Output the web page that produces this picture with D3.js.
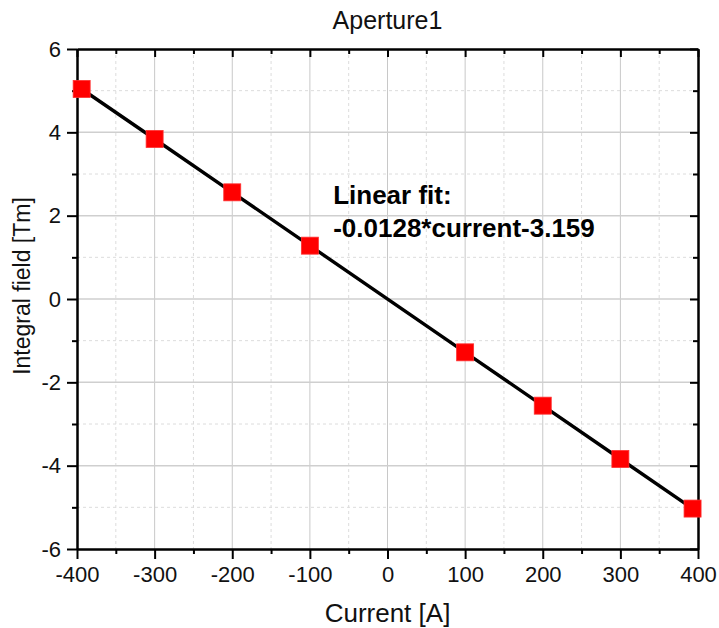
<!DOCTYPE html>
<html>
<head>
<meta charset="utf-8">
<script src="https://cdn.jsdelivr.net/npm/d3@7"></script>
<style>
  body { margin: 0; background: #fff; }
  svg { display: block; font-family: "Liberation Sans", Arial, sans-serif; }
</style>
</head>
<body>
<div id="chart"></div>
<script>
// data
const currents = [-394, -300, -200, -100, 100, 200, 300, 393];
const fields = [5.04, 3.84, 2.56, 1.28, -1.28, -2.56, -3.84, -5.03];
const xMajor = [-400, -300, -200, -100, 0, 100, 200, 300, 400];
const xMinor = [-350, -250, -150, -50, 50, 150, 250, 350];
const yMajor = [-6, -4, -2, 0, 2, 4, 6];
const yMinor = [-5, -3, -1, 1, 3, 5];
const titleText = "Aperture1";
const xTitle = "Current [A]";
const yTitle = "Integral field [Tm]";
const fitLines = ["Linear fit:", "-0.0128*current-3.159"];
const fitAt = [-70, 2.28];

const width = 719, height = 628;
const margin = {top: 49, right: 21, bottom: 79, left: 77};
const iw = width - margin.left - margin.right;
const ih = height - margin.top - margin.bottom;

const svg = d3.select("#chart").append("svg")
    .attr("width", width)
    .attr("height", height);

const x = d3.scaleLinear().domain([-400, 400]).range([0, iw]);
const y = d3.scaleLinear().domain([-6, 6]).range([ih, 0]);

const g = svg.append("g")
    .attr("transform", `translate(${margin.left},${margin.top})`);

// minor grid
g.append("g")
  .selectAll("line")
  .data(xMinor)
  .enter().append("line")
    .attr("x1", d => x(d)).attr("x2", d => x(d))
    .attr("y1", 0).attr("y2", ih)
    .attr("stroke", "#dcdcdc")
    .attr("stroke-dasharray", "3,3");
g.append("g")
  .selectAll("line")
  .data(yMinor)
  .enter().append("line")
    .attr("y1", d => y(d)).attr("y2", d => y(d))
    .attr("x1", 0).attr("x2", iw)
    .attr("stroke", "#dcdcdc")
    .attr("stroke-dasharray", "3,3");

// major grid
g.append("g")
  .selectAll("line")
  .data(xMajor.slice(1, -1))
  .enter().append("line")
    .attr("x1", d => x(d)).attr("x2", d => x(d))
    .attr("y1", 0).attr("y2", ih)
    .attr("stroke", "#c8c8c8");
g.append("g")
  .selectAll("line")
  .data(yMajor.slice(1, -1))
  .enter().append("line")
    .attr("y1", d => y(d)).attr("y2", d => y(d))
    .attr("x1", 0).attr("x2", iw)
    .attr("stroke", "#cfcfcf")
    .attr("stroke-width", 1.5);

// axes
const fmt = d => String(d);
const styleAxis = (sel) => {
  sel.select(".domain").attr("stroke", "#000").attr("stroke-width", 2);
  sel.selectAll(".tick line").attr("stroke", "#000").attr("stroke-width", 2);
  sel.selectAll("text").attr("fill", "#111").style("font-size", "22px")
    .style("font-family", "'Liberation Sans', Arial, sans-serif");
};

g.append("g")
    .attr("transform", `translate(0,${ih})`)
    .call(d3.axisBottom(x).tickValues(xMajor).tickSize(10).tickSizeOuter(0).tickPadding(7)
      .tickFormat(fmt))
    .call(styleAxis);
g.append("g")
    .attr("transform", `translate(0,${ih})`)
    .call(d3.axisBottom(x).tickValues(xMinor).tickSize(5).tickSizeOuter(0).tickFormat(""))
    .call(styleAxis);

g.append("g")
    .call(d3.axisLeft(y).tickValues(yMajor).tickSize(10).tickSizeOuter(0).tickPadding(6)
      .tickFormat(fmt))
    .call(styleAxis);
g.append("g")
    .call(d3.axisLeft(y).tickValues(yMinor).tickSize(5).tickSizeOuter(0).tickFormat(""))
    .call(styleAxis);

// top and right (ticks inward)
g.append("g")
    .call(d3.axisBottom(x).tickValues(xMajor).tickSize(8).tickSizeOuter(0).tickFormat(""))
    .call(styleAxis);
g.append("g")
    .call(d3.axisBottom(x).tickValues(xMinor).tickSize(5).tickSizeOuter(0).tickFormat(""))
    .call(styleAxis);
g.append("g")
    .attr("transform", `translate(${iw},0)`)
    .call(d3.axisLeft(y).tickValues(yMajor).tickSize(8).tickSizeOuter(0).tickFormat(""))
    .call(styleAxis);
g.append("g")
    .attr("transform", `translate(${iw},0)`)
    .call(d3.axisLeft(y).tickValues(yMinor).tickSize(5).tickSizeOuter(0).tickFormat(""))
    .call(styleAxis);

// line
const pts = currents.map((c, i) => [c, fields[i]]);
g.append("path")
    .datum(pts)
    .attr("fill", "none")
    .attr("stroke", "#000")
    .attr("stroke-width", 3.4)
    .attr("d", d3.line().x(d => x(d[0])).y(d => y(d[1])));

// markers
const s = 17;
g.append("g")
  .selectAll("rect")
  .data(pts)
  .enter().append("rect")
    .attr("x", d => x(d[0]) - s / 2)
    .attr("y", d => y(d[1]) - s / 2)
    .attr("width", s)
    .attr("height", s)
    .attr("fill", "#ff0000")
    .attr("stroke", "#ff3030")
    .attr("stroke-width", 0.8);

// annotation
g.append("g")
  .selectAll("text")
  .data(fitLines)
  .enter().append("text")
    .attr("x", x(fitAt[0]))
    .attr("y", (d, i) => y(fitAt[1]) + i * 33)
    .style("font-size", "26px")
    .style("font-weight", "bold")
    .attr("fill", "#000")
    .text(d => d);

// titles
svg.append("text")
    .attr("x", margin.left + iw / 2)
    .attr("y", 29)
    .attr("text-anchor", "middle")
    .style("font-size", "25px")
    .attr("fill", "#111")
    .text(titleText);

svg.append("text")
    .attr("x", margin.left + iw / 2)
    .attr("y", 622)
    .attr("text-anchor", "middle")
    .style("font-size", "26px")
    .attr("fill", "#111")
    .text(xTitle);

svg.append("text")
    .attr("transform", `translate(30,${margin.top + ih / 2 - 13}) rotate(-90)`)
    .attr("text-anchor", "middle")
    .style("font-size", "23px")
    .attr("fill", "#111")
    .text(yTitle);
</script>
</body>
</html>
